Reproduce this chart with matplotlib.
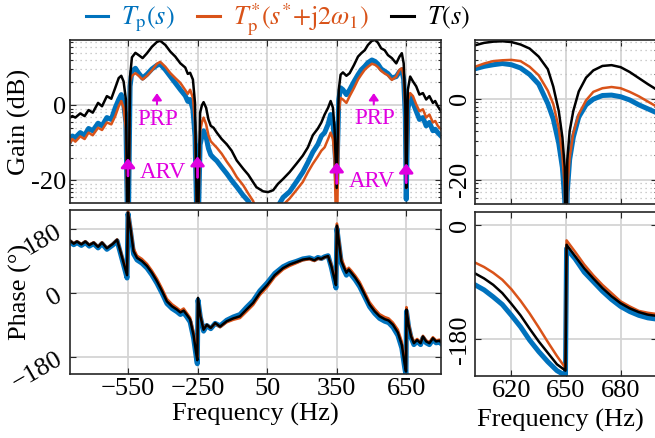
import numpy as np
import matplotlib
matplotlib.use('Agg')
import matplotlib.pyplot as plt
from matplotlib.lines import Line2D
from matplotlib.ticker import FixedLocator

plt.rcParams['font.family'] = ['Liberation Serif', 'DejaVu Serif']
plt.rcParams['mathtext.fontset'] = 'stix'
plt.rcParams['font.size'] = 19
plt.rcParams['xtick.direction'] = 'in'
plt.rcParams['ytick.direction'] = 'in'

BLUE = '#0072BD'
ORANGE = '#D95319'
BLACK = '#000000'
MAG = '#E000E0'

# ---- gain, full range (dB) ----
freq_gain = [-800, -790, -777, -756, -737, -720, -702, -679, -662, -641,
             -622, -605, -590, -579, -569, -559, -550, -541, -533, -518,
             -504, -487, -468, -447, -425, -411, -389, -367, -346, -324,
             -303, -292, -282, -270, -261, -250, -239, -231, -224, -213,
             -203, -193, -181, -167, -146, -124, -103, -81, -53, -31,
             -10, 4, 33, 54, 76, 97, 119, 147, 176, 204,
             226, 247, 269, 284, 298, 313, 324, 334, 341, 350,
             359, 367, 377, 392, 406, 425, 442, 456, 471, 485,
             502, 516, 528, 542, 557, 571, 588, 607, 621, 631,
             639, 646, 650, 657, 667, 679, 693, 707, 722, 736,
             750, 765, 775, 786, 800]
gain_t = [-3.3, -2.9, -3.3, -2.2, -2.9, -1.3, -2.0, 0.6, -0.3, 2.4,
          1.7, 4.6, 7.2, 7.8, 6.3, 1.5, -40, 7.6, 12.7, 13.9,
          13.3, 12.5, 13.8, 15.5, 16.8, 17.1, 16.0, 14.2, 12.9, 11.1,
          10.0, 8.3, 8.6, 6.8, 0.6, -40, -2.0, 0.0, 0.8, -0.7,
          -3.8, -5.5, -6.0, -7.3, -9.0, -10.4, -12.1, -14.7, -16.9, -18.5,
          -20.5, -21.8, -22.9, -23.1, -22.6, -20.9, -19.6, -17.8, -15.6, -13.4,
          -11.2, -8.0, -6.2, -4.6, -2.5, -0.7, 1.1, -0.7, -6.4, -22,
          4.1, 8.1, 8.7, 7.8, 8.5, 10.7, 12.9, 13.8, 14.6, 16.0,
          17.1, 17.3, 16.6, 15.1, 14.6, 13.3, 12.5, 11.1, 12.9, 13.8,
          11.1, 0.6, -22, 4.1, 7.6, 6.3, 5.0, 2.8, 3.2, 1.5,
          2.4, 0.6, 1.1, -0.3, -1.6]
gain_tp = [-9.5, -8.2, -8.6, -7.3, -8.0, -6.2, -6.8, -4.8, -5.5, -3.3,
           -3.8, -0.7, 1.5, 2.8, 0.6, -4.6, -40, 5.0, 9.0, 9.8,
           8.5, 7.2, 8.2, 9.6, 10.6, 10.9, 9.4, 7.6, 5.9, 4.1,
           2.5, 1.0, 1.5, -1.1, -8.2, -40, -10.5, -8.2, -6.8, -8.5,
           -11.5, -13.2, -14.0, -14.8, -16.5, -18.2, -20.0, -21.7, -24.0, -25.5,
           -28, -32, -38, -40, -34, -26.8, -24.5, -23.0, -20.4, -17.8,
           -15.2, -12.5, -10.4, -8.2, -7.3, -5.1, -2.5, -4.6, -9.9, -21,
           1.5, 4.6, 4.1, 2.8, 4.1, 6.3, 8.1, 9.4, 10.3, 11.3,
           12.0, 11.6, 10.9, 9.6, 9.0, 8.4, 7.2, 7.6, 8.9, 9.4,
           6.8, -2.9, -25, -1.1, 2.4, 0.6, -1.6, -3.8, -3.3, -5.5,
           -4.6, -6.8, -6.4, -7.3, -8.2]
gain_tpc = [-10.1, -9.0, -9.7, -8.3, -9.0, -7.3, -8.0, -6.0, -6.6, -4.6,
            -5.1, -2.9, -0.3, 1.1, -0.7, -6.4, -40, 6.3, 7.8, 8.5,
            7.8, 6.8, 7.8, 9.2, 11.0, 11.5, 10.2, 8.5, 7.2, 5.9,
            4.0, 3.0, 4.1, 1.9, -4.6, -40, -7.0, -4.5, -3.3, -5.1,
            -8.0, -9.6, -10.4, -11.3, -12.9, -15.0, -16.8, -19.1, -21.3, -23.5,
            -25.5, -28, -32, -36, -32, -28.5, -26.5, -24.8, -22.6, -20.4,
            -17.8, -15.6, -13.6, -12.1, -11.2, -9.0, -7.3, -9.0, -14.3, -40,
            -2.0, 1.9, 1.5, 0.6, 2.4, 4.6, 6.8, 8.1, 9.4, 10.2,
            11.0, 10.7, 10.1, 9.1, 8.4, 7.9, 6.7, 7.6, 9.4, 9.8,
            7.6, -1.1, -22, 1.3, 3.2, 2.4, 0.2, -1.6, -1.1, -3.3,
            -2.5, -4.6, -4.2, -5.5, -6.4]

# ---- phase, full range (deg) ----
freq_phase = [-800, -784, -770, -751, -734, -717, -698, -679, -662, -641,
              -616, -597, -583, -569, -554, -550, -540, -526, -511, -490,
              -468, -447, -425, -403, -382, -360, -339, -324, -310, -296,
              -282, -267, -256, -251, -248, -238, -224, -210, -193, -174,
              -153, -124, -96, -67, -39, -10, 19, 50, 83, 119,
              147, 176, 204, 233, 254, 269, 284, 298, 313, 327,
              341, 347, 351, 359, 370, 382, 392, 402, 413, 430,
              449, 471, 492, 514, 535, 557, 574, 593, 614, 631,
              643, 649, 651, 660, 671, 683, 697, 712, 722, 736,
              750, 765, 779, 793, 800]
phase_t = [147, 139, 145, 137, 145, 135, 142, 130, 142, 126,
           138, 150, 118, 85, 50, 227, 185, 118, 99, 90,
           76, 57, 33, 5, -24, -38, -47, -55, -50, -62,
           -75, -120, -170, -190, -14, -65, -104, -90, -99, -85,
           -95, -80, -72, -66, -47, -28, 0, 22, 50, 70,
           80, 87, 94, 97, 92, 98, 96, 101, 104, 76,
           38, 22, 190, 147, 90, 71, 57, 66, 57, 43,
           24, -5, -33, -52, -66, -74, -78, -90, -112, -147,
           -200, -222, -47, -90, -123, -142, -133, -142, -123, -137,
           -142, -128, -137, -135, -139]
phase_tp = [144, 136, 142, 134, 142, 132, 139, 127, 139, 123,
            135, 147, 113, 79, 42, 224, 178, 110, 93, 84,
            70, 51, 27, -1, -30, -44, -53, -61, -56, -68,
            -82, -128, -180, -200, -20, -68, -108, -92, -101, -86,
            -93, -77, -68, -61, -41, -22, 6, 28, 55, 74,
            83, 89, 96, 99, 94, 100, 97, 102, 105, 72,
            31, 14, 182, 140, 84, 64, 50, 59, 51, 37,
            18, -11, -39, -58, -72, -80, -84, -97, -120, -156,
            -210, -232, -52, -95, -127, -146, -137, -146, -127, -141,
            -146, -132, -141, -139, -143]
phase_tpc = [148, 140, 146, 138, 146, 136, 143, 131, 143, 127,
             139, 151, 121, 89, 56, 233, 193, 126, 105, 96,
             82, 63, 40, 12, -17, -32, -42, -50, -44, -57,
             -70, -112, -160, -182, -20, -62, -102, -90, -99, -86,
             -97, -83, -76, -71, -53, -34, -6, 16, 45, 66,
             76, 84, 92, 95, 90, 96, 95, 100, 103, 81,
             44, 28, 196, 155, 98, 78, 63, 71, 63, 49,
             31, 2, -26, -45, -60, -68, -72, -84, -104, -138,
             -190, -214, -40, -84, -118, -138, -130, -139, -121, -134,
             -139, -125, -134, -132, -136]

# ---- zoom around 650 Hz ----
freq_zoom_gain = [600, 605, 610, 615, 620, 625, 630, 635, 640, 643,
                  646, 648, 649.3, 650, 650.7, 652, 654, 657, 661, 665,
                  670, 675, 680, 685, 690, 695, 700]
zgain_t = [13.2, 13.8, 14.1, 14.2, 14.0, 13.4, 12.4, 10.4, 7.3, 3.0,
           -3.0, -9.5, -17, -40, -15, -8, -3, 1.8, 5.2, 7.0,
           8.1, 8.3, 7.8, 6.6, 5.1, 3.6, 2.2]
zgain_tp = [7.4, 8.0, 8.4, 8.7, 8.4, 7.6, 6.0, 3.6, -1.2, -5.0,
            -11, -17, -25, -40, -23, -15, -9.5, -4.5, -1.5, -0.1,
            0.8, 0.9, 0.5, -0.3, -1.5, -2.5, -3.5]
zgain_tpc = [7.9, 8.7, 9.3, 9.5, 9.6, 9.3, 7.9, 5.8, 2.0, -1.3,
             -7.2, -14, -22, -40, -22, -14.5, -8.5, -3.8, -0.4, 1.7,
             2.6, 2.9, 2.6, 1.7, 0.6, -0.7, -2.0]

freq_zoom_phase = [600, 605, 610, 615, 620, 625, 630, 635, 640, 645,
                   649.7, 650.3, 655, 660, 665, 670, 675, 680, 685, 690,
                   695, 700]
zphase_t = [-76, -84, -94, -107, -124, -142, -163, -183, -201, -219,
            -229, -31, -49, -68, -84, -99, -112, -123, -131, -137,
            -141, -143]
zphase_tp = [-94, -102, -113, -125, -142, -160, -181, -199, -215, -229,
             -237, -37, -53, -74, -89, -104, -117, -128, -136, -142,
             -146, -148]
zphase_tpc = [-59, -66, -75, -86, -101, -119, -139, -161, -184, -206,
              -225, -24, -42, -62, -79, -94, -107, -120, -128, -135,
              -138, -140]

xticks_full = [-550, -250, 50, 350, 650]
xticks_zoom = [620, 650, 680]

# minor ticks of the log-magnitude gain axis
mults = [0.05, 0.06, 0.07, 0.08, 0.09, 0.2, 0.3, 0.4, 0.5, 0.6, 0.7, 0.8, 0.9,
         2, 3, 4, 5, 6, 7, 8, 9]
gain_minor = 20 * np.log10(mults)

fig = plt.figure(figsize=(6.55, 4.38), dpi=100)
ax_g = fig.add_axes([0.1069, 0.5365, 0.5664, 0.3721])
ax_p = fig.add_axes([0.1069, 0.1461, 0.5664, 0.3744])
ax_gz = fig.add_axes([0.7252, 0.5342, 0.2779, 0.3744])
ax_pz = fig.add_axes([0.7252, 0.1422, 0.2779, 0.3744])


def style(ax):
    for s in ax.spines.values():
        s.set_color('#262626')
        s.set_linewidth(1.2)
    ax.tick_params(which='both', top=True, right=True, color='#262626',
                   width=0.8, pad=3, labelsize=19)
    ax.tick_params(which='major', length=4)
    ax.tick_params(which='minor', length=2)
    ax.grid(True, which='major', color='#d4d4d4', lw=1.3)
    ax.set_axisbelow(True)


# gain, full range
ax_g.plot(freq_gain, gain_tp, color=BLUE, lw=3.6)
ax_g.plot(freq_gain, gain_tpc, color=ORANGE, lw=1.8)
ax_g.plot(freq_gain, gain_t, color=BLACK, lw=1.8)
ax_g.set_xlim(-800, 800)
ax_g.set_ylim(-26, 17.3)
ax_g.set_xticks(xticks_full)
ax_g.set_xticklabels([])
ax_g.set_yticks([-20, 0])
ax_g.set_yticklabels(['-20', '0'])
ax_g.yaxis.set_minor_locator(FixedLocator(gain_minor))
style(ax_g)
ax_g.grid(True, which='minor', axis='y', color='#bdbdbd', lw=0.9, ls=(0, (1, 3)))
ax_g.set_ylabel('Gain (dB)', fontsize=19)
ax_g.yaxis.set_label_coords(-0.105, 0.5)

# annotations
for x in [-425, 510]:
    ax_g.annotate('', xy=(x, 3.2), xytext=(x, 0.2),
                  arrowprops=dict(arrowstyle='-|>,head_length=0.5,head_width=0.35',
                                  color=MAG, lw=1.5, mutation_scale=8,
                                  shrinkA=0, shrinkB=0))
ax_g.text(-420, -3.8, 'PRP', color=MAG, fontsize=16.5, ha='center', va='center')
ax_g.text(512, -3.6, 'PRP', color=MAG, fontsize=16.5, ha='center', va='center')
for x, y0, y1 in [(-550, -18.8, -14.1), (-250, -19.2, -13.6), (350, -20.8, -15.2), (650, -20.6, -15.5)]:
    ax_g.annotate('', xy=(x, y1), xytext=(x, y0),
                  arrowprops=dict(arrowstyle='-|>,head_length=0.45,head_width=0.35',
                                  color=MAG, lw=2, mutation_scale=12,
                                  shrinkA=0, shrinkB=0))
ax_g.text(-400, -18.0, 'ARV', color=MAG, fontsize=16.5, ha='center', va='center')
ax_g.text(502, -20.3, 'ARV', color=MAG, fontsize=16.5, ha='center', va='center')

# phase, full range
ax_p.plot(freq_phase, phase_tp, color=BLUE, lw=3.6)
ax_p.plot(freq_phase, phase_tpc, color=ORANGE, lw=1.8)
ax_p.plot(freq_phase, phase_t, color=BLACK, lw=1.8)
ax_p.set_xlim(-800, 800)
ax_p.set_ylim(-229, 234)
ax_p.set_xticks(xticks_full)
ax_p.set_yticks([-180, 0, 180])
style(ax_p)
for lab in ax_p.get_yticklabels():
    lab.set_rotation(30)
ax_p.set_xlabel('Frequency (Hz)', fontsize=19, labelpad=2)
ax_p.set_ylabel('Phase (°)', fontsize=19)
ax_p.yaxis.set_label_coords(-0.102, 0.5)

# gain, zoom
ax_gz.plot(freq_zoom_gain, zgain_tp, color=BLUE, lw=3.6)
ax_gz.plot(freq_zoom_gain, zgain_tpc, color=ORANGE, lw=1.8)
ax_gz.plot(freq_zoom_gain, zgain_t, color=BLACK, lw=1.8)
ax_gz.set_xlim(600, 700)
ax_gz.set_ylim(-26, 14.5)
ax_gz.set_xticks(xticks_zoom)
ax_gz.set_xticklabels([])
ax_gz.set_yticks([-20, 0])
ax_gz.set_yticklabels(['-20', '0'], rotation=90, va='center')
ax_gz.yaxis.set_minor_locator(FixedLocator(gain_minor))
style(ax_gz)
ax_gz.grid(True, which='minor', axis='y', color='#bdbdbd', lw=0.9, ls=(0, (1, 3)))

# phase, zoom
ax_pz.plot(freq_zoom_phase, zphase_tp, color=BLUE, lw=3.6)
ax_pz.plot(freq_zoom_phase, zphase_tpc, color=ORANGE, lw=1.8)
ax_pz.plot(freq_zoom_phase, zphase_t, color=BLACK, lw=1.8)
ax_pz.set_xlim(600, 700)
ax_pz.set_ylim(-237, 21)
ax_pz.set_xticks(xticks_zoom)
ax_pz.set_yticks([-180, 0])
ax_pz.set_yticklabels(['-180', '0'], rotation=90, va='center')
style(ax_pz)
ax_pz.set_xlabel('Frequency (Hz)', fontsize=19, labelpad=1)
ax_pz.xaxis.set_label_coords(0.467, -0.2)

handles = [Line2D([], [], color=BLUE, lw=2.2),
           Line2D([], [], color=ORANGE, lw=2.2),
           Line2D([], [], color=BLACK, lw=2.2)]
labels = [r'$T_{\rm p}(s)$', r'$T_{\rm p}^{*}(s^{*}{+}{\rm j}2\omega_1)$', r'$T(s)$']
fig.legend(handles, labels, loc='center', bbox_to_anchor=(0.424, 0.955), ncol=3,
           frameon=False, handlelength=0.85, handletextpad=0.5, columnspacing=0.85,
           labelcolor='linecolor', fontsize=19, borderaxespad=0, borderpad=0)

fig.savefig('out.png', dpi=100)
